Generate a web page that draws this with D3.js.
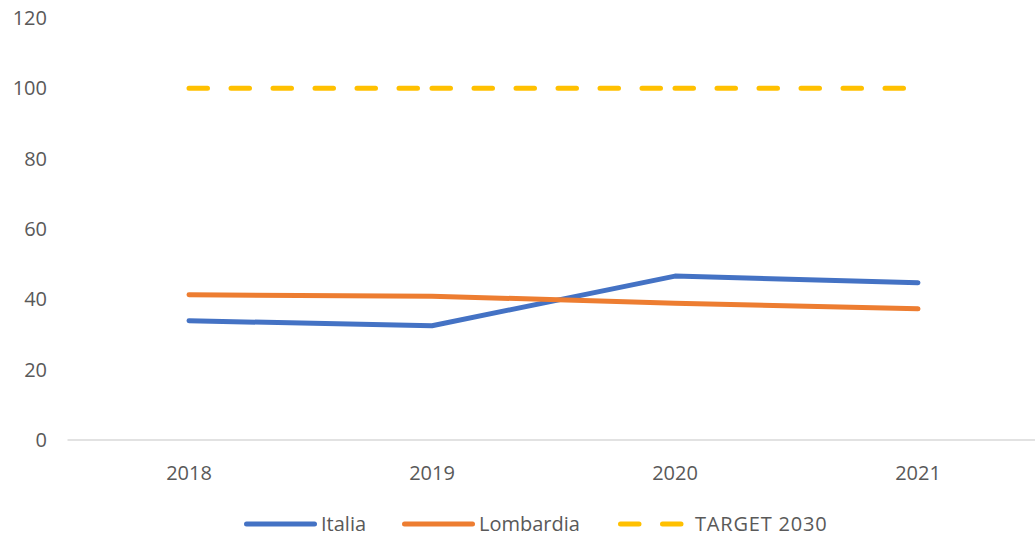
<!DOCTYPE html>
<html><head><meta charset="utf-8">
<script src="https://cdn.jsdelivr.net/npm/d3@7"></script>
<style>body{margin:0;background:#fff}svg{display:block}</style>
</head><body>
<svg id="c" width="1035" height="536"></svg>
<script>
const years = ["2018","2019","2020","2021"];
const italia = [33.9, 32.5, 46.6, 44.7];
const lombardia = [41.3, 40.9, 38.9, 37.3];
const target = [100, 100, 100, 100];
const yTicks = [0,20,40,60,80,100,120];
const seriesNames = ["Italia","Lombardia","TARGET 2030"];
const colors = ["#4472C4","#ED7D31","#FFC000"];

const svg = d3.select("#c");
const font = "'Open Sans', sans-serif";
const fs = 20;
const textColor = "#595959";
const x = d3.scaleBand().domain(years).range([67.5,1039.5]);
const cx = d => x(d) + x.bandwidth()/2;
const y = d3.scaleLinear().domain([0,120]).range([440,18]);

// y labels
svg.append("g").selectAll("text").data(yTicks).join("text")
  .attr("x",47).attr("y",d=>y(d)).attr("dy","0.35em")
  .attr("text-anchor","end").attr("font-family",font).attr("font-size",fs)
  .attr("fill",textColor).text(d=>d);

// x axis line
svg.append("line").attr("x1",67.5).attr("x2",1035).attr("y1",y(0)).attr("y2",y(0))
  .attr("stroke","#D9D9D9").attr("stroke-width",1.5);

// x labels
svg.append("g").selectAll("text").data(years).join("text")
  .attr("x",d=>cx(d)).attr("y",473).attr("dy","0.35em")
  .attr("text-anchor","middle").attr("font-family",font).attr("font-size",fs)
  .attr("fill",textColor).text(d=>d);

const line = d3.line().x((d,i)=>cx(years[i])).y(d=>y(d));

// target: dash pattern restarts at each point
const segs = d3.pairs(target.map((v,i)=>[cx(years[i]), y(v)]));
svg.append("g").selectAll("line").data(segs).join("line")
  .attr("x1",d=>d[0][0]).attr("y1",d=>d[0][1]).attr("x2",d=>d[1][0]).attr("y2",d=>d[1][1])
  .attr("stroke",colors[2]).attr("stroke-width",5).attr("stroke-linecap","round")
  .attr("stroke-dasharray","18.5,23.5");

[italia, lombardia].forEach((s,k)=>{
  svg.append("path").datum(s).attr("d",line).attr("fill","none")
    .attr("stroke",colors[k]).attr("stroke-width",5)
    .attr("stroke-linecap","round").attr("stroke-linejoin","round");
});

// legend
const ly = 524;
const legend = [
  {name:seriesNames[0], x1:246.5, x2:314.5, tx:321, dash:null, ls:0},
  {name:seriesNames[1], x1:404.5, x2:472.5, tx:479, dash:null, ls:0},
  {name:seriesNames[2], x1:620.5, x2:684, tx:695, dash:"18.5,23.5", ls:0.8}
];
legend.forEach((l,k)=>{
  svg.append("line").attr("x1",l.x1).attr("x2",l.x2).attr("y1",ly).attr("y2",ly)
    .attr("stroke",colors[k]).attr("stroke-width",5).attr("stroke-linecap","round")
    .attr("stroke-dasharray",l.dash);
  svg.append("text").attr("x",l.tx).attr("y",ly).attr("dy","0.35em")
    .attr("font-family",font).attr("font-size",fs).attr("letter-spacing",l.ls)
    .attr("fill",textColor).text(l.name);
});
</script>
</body></html>
